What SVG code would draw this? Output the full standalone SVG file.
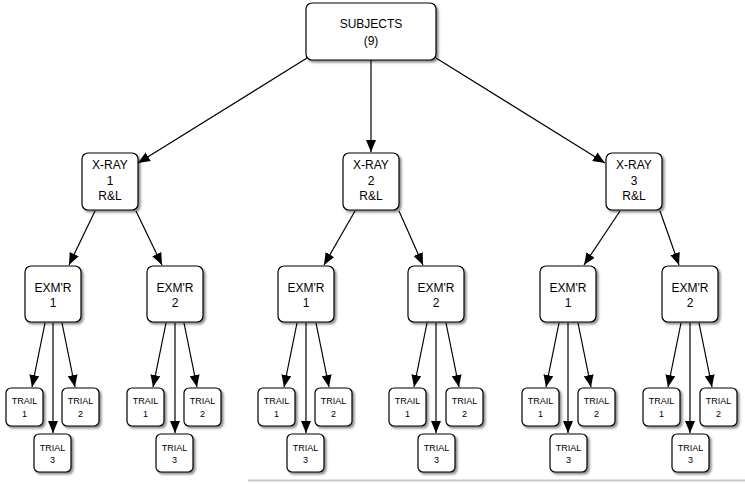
<svg xmlns="http://www.w3.org/2000/svg" width="745" height="484" viewBox="0 0 745 484">
<style>
.box{fill:#fff;stroke:#000;stroke-width:1.2;filter:url(#sh)}
.t{font-family:"Liberation Sans",Arial,sans-serif;font-size:12px;text-anchor:middle;fill:#000}
.s{font-family:"Liberation Sans",Arial,sans-serif;font-size:9px;text-anchor:middle;fill:#000}
.c line{stroke:#000;stroke-width:1.2;marker-end:url(#ah)}
</style>
<defs>
<filter id="sh" x="-20%" y="-20%" width="150%" height="150%">
<feDropShadow dx="2" dy="2" stdDeviation="1.3" flood-color="#000" flood-opacity="0.45"/>
</filter>
<marker id="ah" markerUnits="userSpaceOnUse" markerWidth="12" markerHeight="10" viewBox="0 0 12 10" refX="12" refY="5" orient="auto">
<path d="M0,0 L12,5 L0,10 Z" fill="#000"/>
</marker>
</defs>
<line x1="248" y1="480.5" x2="745" y2="480.5" stroke="#c8c8c8" stroke-width="2"/>
<g class="c">
<line x1="307" y1="58" x2="138" y2="163"/>
<line x1="371" y1="60" x2="371" y2="152"/>
<line x1="436" y1="58" x2="605" y2="163"/>
<line x1="95" y1="211" x2="69" y2="265"/>
<line x1="136" y1="211" x2="162" y2="265"/>
<line x1="355" y1="211" x2="324" y2="265"/>
<line x1="399" y1="211" x2="423" y2="265"/>
<line x1="620" y1="211" x2="584" y2="265"/>
<line x1="660" y1="211" x2="679" y2="265"/>
<line x1="45" y1="323" x2="32" y2="387"/><line x1="53" y1="323" x2="53" y2="433"/><line x1="62" y1="323" x2="75" y2="387"/>
<line x1="166" y1="323" x2="153" y2="387"/><line x1="175" y1="323" x2="175" y2="433"/><line x1="184" y1="323" x2="197" y2="387"/>
<line x1="297" y1="323" x2="284" y2="387"/><line x1="306" y1="323" x2="306" y2="433"/><line x1="316" y1="323" x2="329" y2="387"/>
<line x1="427" y1="323" x2="414" y2="387"/><line x1="436" y1="323" x2="436" y2="433"/><line x1="446" y1="323" x2="459" y2="387"/>
<line x1="559" y1="323" x2="546" y2="387"/><line x1="568" y1="323" x2="568" y2="433"/><line x1="578" y1="323" x2="591" y2="387"/>
<line x1="681" y1="323" x2="668" y2="387"/><line x1="690" y1="323" x2="690" y2="433"/><line x1="699" y1="323" x2="712" y2="387"/>
</g>
<g id="subjects"><rect class="box" x="306" y="3" width="130" height="57" rx="6"/><text class="t" x="371" y="28">SUBJECTS</text><text class="t" x="371" y="45">(9)</text></g>
<g id="xray1"><rect class="box" x="82" y="153" width="56" height="57" rx="6"/><text class="t" x="110" y="169">X-RAY</text><text class="t" x="110" y="185">1</text><text class="t" x="110" y="200">R&amp;L</text></g>
<g id="xray2"><rect class="box" x="343" y="153" width="56" height="57" rx="6"/><text class="t" x="371" y="169">X-RAY</text><text class="t" x="371" y="185">2</text><text class="t" x="371" y="200">R&amp;L</text></g>
<g id="xray3"><rect class="box" x="606" y="153" width="56" height="57" rx="6"/><text class="t" x="634" y="169">X-RAY</text><text class="t" x="634" y="185">3</text><text class="t" x="634" y="200">R&amp;L</text></g>
<g id="exm1a"><rect class="box" x="25" y="266" width="56" height="56" rx="6"/><text class="t" x="53" y="292">EXM'R</text><text class="t" x="53" y="307">1</text></g>
<g id="exm2a"><rect class="box" x="147" y="266" width="56" height="56" rx="6"/><text class="t" x="175" y="292">EXM'R</text><text class="t" x="175" y="307">2</text></g>
<g id="exm1b"><rect class="box" x="278" y="266" width="56" height="56" rx="6"/><text class="t" x="306" y="292">EXM'R</text><text class="t" x="306" y="307">1</text></g>
<g id="exm2b"><rect class="box" x="408" y="266" width="56" height="56" rx="6"/><text class="t" x="436" y="292">EXM'R</text><text class="t" x="436" y="307">2</text></g>
<g id="exm1c"><rect class="box" x="540" y="266" width="56" height="56" rx="6"/><text class="t" x="568" y="292">EXM'R</text><text class="t" x="568" y="307">1</text></g>
<g id="exm2c"><rect class="box" x="662" y="266" width="56" height="56" rx="6"/><text class="t" x="690" y="292">EXM'R</text><text class="t" x="690" y="307">2</text></g>
<g id="t1a"><rect class="box" x="6" y="388" width="37" height="38" rx="5"/><text class="s" x="24.5" y="404">TRAIL</text><text class="s" x="24.5" y="417">1</text></g>
<g id="t2a"><rect class="box" x="62" y="388" width="37" height="38" rx="5"/><text class="s" x="80.5" y="404">TRIAL</text><text class="s" x="80.5" y="417">2</text></g>
<g id="t3a"><rect class="box" x="34" y="434" width="37" height="38" rx="5"/><text class="s" x="52.5" y="451">TRIAL</text><text class="s" x="52.5" y="463">3</text></g>
<g id="t1b"><rect class="box" x="127" y="388" width="37" height="38" rx="5"/><text class="s" x="145.5" y="404">TRAIL</text><text class="s" x="145.5" y="417">1</text></g>
<g id="t2b"><rect class="box" x="184" y="388" width="37" height="38" rx="5"/><text class="s" x="202.5" y="404">TRIAL</text><text class="s" x="202.5" y="417">2</text></g>
<g id="t3b"><rect class="box" x="156" y="434" width="37" height="38" rx="5"/><text class="s" x="174.5" y="451">TRIAL</text><text class="s" x="174.5" y="463">3</text></g>
<g id="t1c"><rect class="box" x="258" y="388" width="37" height="38" rx="5"/><text class="s" x="276.5" y="404">TRAIL</text><text class="s" x="276.5" y="417">1</text></g>
<g id="t2c"><rect class="box" x="315" y="388" width="37" height="38" rx="5"/><text class="s" x="333.5" y="404">TRIAL</text><text class="s" x="333.5" y="417">2</text></g>
<g id="t3c"><rect class="box" x="287" y="434" width="37" height="38" rx="5"/><text class="s" x="305.5" y="451">TRIAL</text><text class="s" x="305.5" y="463">3</text></g>
<g id="t1d"><rect class="box" x="389" y="388" width="37" height="38" rx="5"/><text class="s" x="407.5" y="404">TRAIL</text><text class="s" x="407.5" y="417">1</text></g>
<g id="t2d"><rect class="box" x="446" y="388" width="37" height="38" rx="5"/><text class="s" x="464.5" y="404">TRIAL</text><text class="s" x="464.5" y="417">2</text></g>
<g id="t3d"><rect class="box" x="418" y="434" width="37" height="38" rx="5"/><text class="s" x="436.5" y="451">TRIAL</text><text class="s" x="436.5" y="463">3</text></g>
<g id="t1e"><rect class="box" x="522" y="388" width="37" height="38" rx="5"/><text class="s" x="540.5" y="404">TRAIL</text><text class="s" x="540.5" y="417">1</text></g>
<g id="t2e"><rect class="box" x="578" y="388" width="37" height="38" rx="5"/><text class="s" x="596.5" y="404">TRIAL</text><text class="s" x="596.5" y="417">2</text></g>
<g id="t3e"><rect class="box" x="550" y="434" width="37" height="38" rx="5"/><text class="s" x="568.5" y="451">TRIAL</text><text class="s" x="568.5" y="463">3</text></g>
<g id="t1f"><rect class="box" x="643" y="388" width="37" height="38" rx="5"/><text class="s" x="661.5" y="404">TRAIL</text><text class="s" x="661.5" y="417">1</text></g>
<g id="t2f"><rect class="box" x="700" y="388" width="37" height="38" rx="5"/><text class="s" x="718.5" y="404">TRIAL</text><text class="s" x="718.5" y="417">2</text></g>
<g id="t3f"><rect class="box" x="672" y="434" width="37" height="38" rx="5"/><text class="s" x="690.5" y="451">TRIAL</text><text class="s" x="690.5" y="463">3</text></g>
</svg>
